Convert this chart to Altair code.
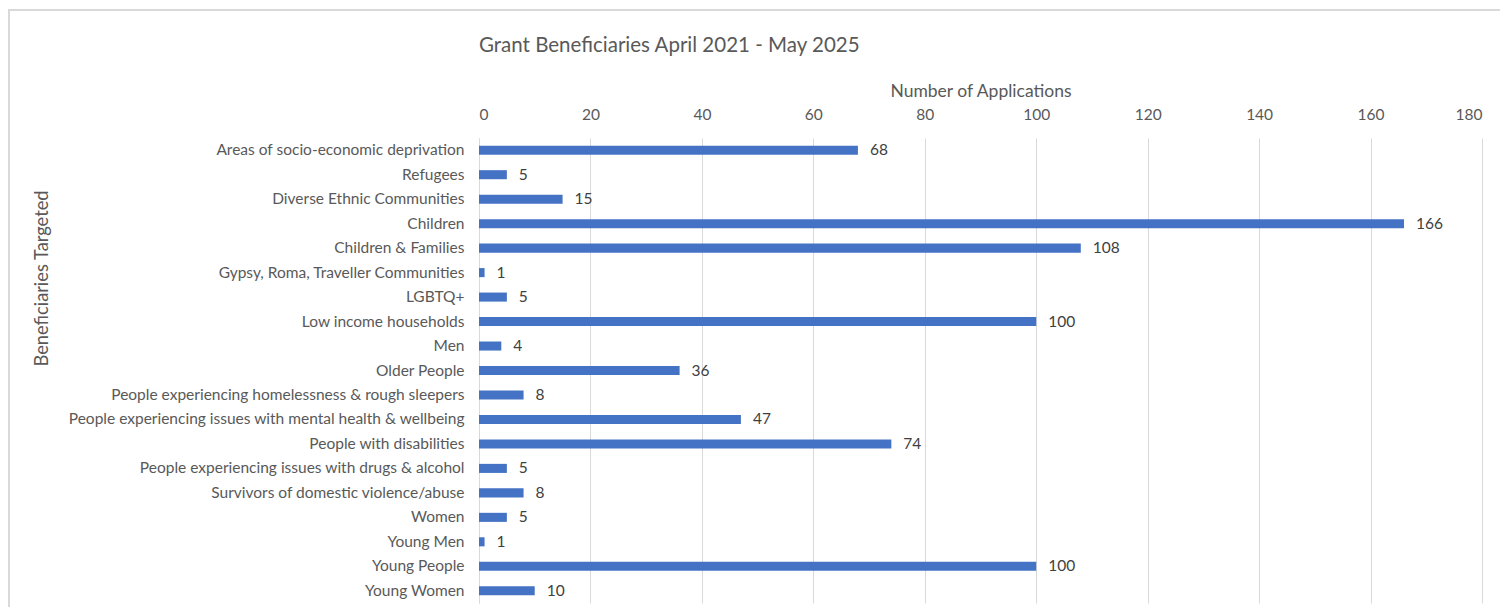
import altair as alt
import pandas as pd

categories = [
    "Areas of socio-economic deprivation",
    "Refugees",
    "Diverse Ethnic Communities",
    "Children",
    "Children & Families",
    "Gypsy, Roma, Traveller Communities",
    "LGBTQ+",
    "Low income households",
    "Men",
    "Older People",
    "People experiencing homelessness & rough sleepers",
    "People experiencing issues with mental health & wellbeing",
    "People with disabilities",
    "People experiencing issues with drugs & alcohol",
    "Survivors of domestic violence/abuse",
    "Women",
    "Young Men",
    "Young People",
    "Young Women",
]
values = [68, 5, 15, 166, 108, 1, 5, 100, 4, 36, 8, 47, 74, 5, 8, 5, 1, 100, 10]
x_ticks = [0, 20, 40, 60, 80, 100, 120, 140, 160, 180]

df = pd.DataFrame({"category": categories, "value": values})

FONT = "Lato"
LABEL = "#595959"
GRID = "#D9D9D9"
W, H = 1003, 465

x_enc = alt.X(
    "value:Q",
    scale=alt.Scale(domain=[0, 180], nice=False),
    axis=alt.Axis(
        orient="top",
        values=x_ticks,
        title="Number of Applications",
        titleFont=FONT,
        titleFontSize=17.5,
        titleFontWeight="normal",
        titleColor=LABEL,
        titleBaseline="middle",
        titleY=-47,
        labelFont=FONT,
        labelFontSize=15.5,
        labelColor=LABEL,
        labelPadding=16,
        ticks=False,
        tickSize=0,
        domain=False,
        grid=True,
        gridColor=GRID,
        gridWidth=1,
    ),
)
y_enc = alt.Y(
    "category:N",
    sort=categories,
    scale=alt.Scale(paddingInner=0.63, paddingOuter=0.315),
    axis=alt.Axis(
        title="Beneficiaries  Targeted",
        titleFont=FONT,
        titleFontSize=18.3,
        titleFontWeight="normal",
        titleColor=LABEL,
        titleAngle=-90,
        titleAlign="center",
        titleBaseline="middle",
        titleX=-437,
        titleY=140,
        labelFont=FONT,
        labelFontSize=15.5,
        labelColor=LABEL,
        labelPadding=15,
        labelLimit=500,
        ticks=False,
        tickSize=0,
        domain=True,
        domainColor=GRID,
        domainWidth=1,
        grid=False,
    ),
)

bars = alt.Chart(df).mark_bar(color="#4472C4").encode(x=x_enc, y=y_enc)
texts = alt.Chart(df).mark_text(
    align="left", baseline="middle", dx=12, font=FONT, fontSize=15.5, color="#404040"
).encode(x="value:Q", y=alt.Y("category:N", sort=categories), text="value:Q")

frame = alt.Chart(pd.DataFrame({"k": [0]})).mark_rect(
    fill=None, stroke=GRID, strokeWidth=2
).encode(
    x=alt.value(-470), x2=alt.value(1100), y=alt.value(-128), y2=alt.value(500)
)

chart = alt.layer(frame, bars, texts).properties(
    width=W,
    height=H,
    title=alt.TitleParams(
        "Grant Beneficiaries April 2021 - May 2025",
        anchor="start",
        frame="group",
        font=FONT,
        fontSize=20.5,
        fontWeight="normal",
        color=LABEL,
        offset=0,
        dy=47,
    ),
    autosize=alt.AutoSizeParams(type="none"),
    padding={"left": 471, "top": 130, "right": 18, "bottom": 4},
).configure_view(stroke=None)

chart.save("out.html", embed_options={"renderer": "svg", "actions": False})
